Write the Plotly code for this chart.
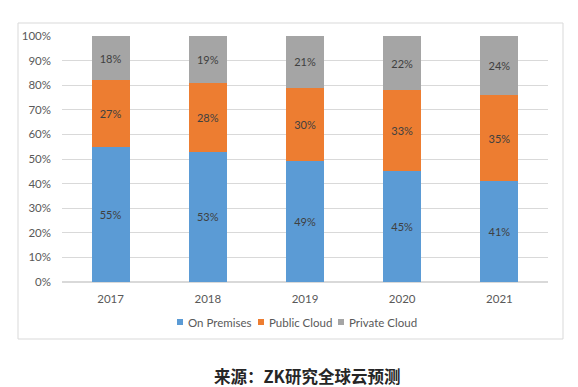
import plotly.graph_objects as go

years = ["2017", "2018", "2019", "2020", "2021"]
on_premises = [55, 53, 49, 45, 41]
public_cloud = [27, 28, 30, 33, 35]
private_cloud = [18, 19, 21, 22, 24]
series_names = ["On Premises", "Public Cloud", "Private Cloud"]
colors = ["#5B9BD5", "#ED7D31", "#A5A5A5"]
caption = "来源：ZK研究全球云预测"

fig = go.Figure()
for name, vals, col in zip(series_names, [on_premises, public_cloud, private_cloud], colors):
    fig.add_trace(go.Bar(
        x=years, y=[v / 100 for v in vals], name=name,
        marker=dict(color=col, line=dict(width=0)),
        text=[f"{v}%" for v in vals], textposition="inside",
        insidetextanchor="middle", showlegend=False,
        textfont=dict(color="#404040", size=11, family="Lato"),
    ))

W, H = 578, 387
L, R, T, B = 62, 30, 36, 105
pw, ph = W - L - R, H - T - B

def px(x):
    return (x - L) / pw

def py(y):
    return (H - B - y) / ph

# outer chart border
fig.add_shape(type="rect", xref="paper", yref="paper",
              x0=px(18), x1=px(563), y0=py(339), y1=py(23),
              line=dict(color="#D9D9D9", width=1), fillcolor="rgba(0,0,0,0)", layer="below")

# legend (manual, compact like the reference)
leg_y = 322
leg_marker_x = [177, 258, 338]
for name, col, mx in zip(series_names, colors, leg_marker_x):
    fig.add_shape(type="rect", xref="paper", yref="paper",
                  x0=px(mx), x1=px(mx + 6), y0=py(leg_y + 3), y1=py(leg_y - 3),
                  line=dict(width=0), fillcolor=col)
    fig.add_annotation(text=name, xref="paper", yref="paper", x=px(mx + 9), y=py(leg_y),
                       showarrow=False, xanchor="left", yanchor="middle",
                       font=dict(family="Lato", size=11.5, color="#595959"))

fig.add_annotation(text=caption, xref="paper", yref="paper", x=px(307), y=py(376),
                   showarrow=False, xanchor="center", yanchor="middle",
                   font=dict(family="Noto Sans CJK SC", size=16.5, color="#262626", weight="bold"))

fig.update_layout(
    width=W, height=H,
    margin=dict(l=L, r=R, t=T, b=B),
    barmode="stack", bargap=0.61,
    plot_bgcolor="white", paper_bgcolor="white",
    font=dict(family="Lato", size=11, color="#595959"),
    uniformtext=dict(minsize=8, mode="show"),
    showlegend=False,
    xaxis=dict(showgrid=False, showline=False, ticks="", tickfont=dict(size=11.5, color="#595959"),
               ticklabelstandoff=8),
    yaxis=dict(range=[0, 1], dtick=0.1, tickformat=".0%", showgrid=True,
               gridcolor="#D9D9D9", gridwidth=1, zeroline=True, zerolinecolor="#D9D9D9",
               ticks="", tickfont=dict(size=11.5, color="#595959"), ticklabelstandoff=10),
)

fig.write_html("out.html", config={"displayModeBar": False},
               post_script="document.body.style.margin='0';document.body.style.overflow='hidden';")
